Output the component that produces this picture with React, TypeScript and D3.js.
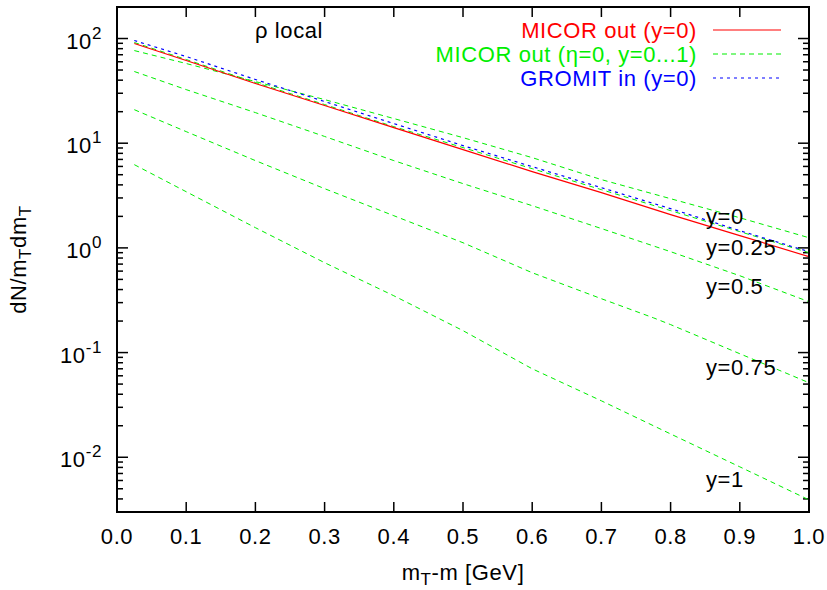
import React from "react";
import * as d3 from "d3";

const mT = [0.025, 0.1, 0.2, 0.3, 0.4, 0.5, 0.6, 0.7, 0.8, 0.9, 1.0];
const mT075 = [0.025, 0.1, 0.2, 0.3, 0.4, 0.5, 0.6, 0.7, 0.775, 0.8, 0.9, 1.0];
const micorY0 = [89.6, 61.6, 37.2, 22.9, 14.1, 8.69, 5.35, 3.37, 2.08, 1.31, 0.824];
const gromitY0 = [95.7, 67.3, 40.6, 25.0, 15.4, 9.48, 5.97, 3.76, 2.37, 1.46, 0.92];
const etaY0 = [91.6, 63.0, 38.0, 23.4, 14.4, 9.08, 5.71, 3.6, 2.27, 1.43, 0.9];
const etaY025 = [76.7, 57.7, 38.8, 26.1, 17.2, 11.3, 7.28, 4.49, 2.95, 1.94, 1.25];
const etaY05 = [48.4, 32.5, 19.6, 11.6, 6.82, 4.11, 2.53, 1.53, 0.92, 0.542, 0.306];
const etaY075 = [20.9, 12.9, 6.82, 3.68, 2.03, 1.12, 0.579, 0.327, 0.215, 0.185, 0.0975, 0.0515];
const etaY1 = [6.24, 3.44, 1.56, 0.722, 0.349, 0.162, 0.07, 0.0346, 0.0167, 0.0081, 0.00392];

const xTicks = [0, 0.1, 0.2, 0.3, 0.4, 0.5, 0.6, 0.7, 0.8, 0.9, 1.0];
const yExponents = [2, 1, 0, -1, -2];
const curveLabels = ["y=0", "y=0.25", "y=0.5", "y=0.75", "y=1"];
const curveLabelValues = [1.7, 0.85, 0.36, 0.0616, 0.00515];
const legendLabels = ["MICOR out (y=0)", "MICOR out (\u03b7=0, y=0...1)", "GROMIT in (y=0)"];

const W = 827, H = 590;
const L = 117, R = 809, T = 7, B = 512;
const FONT = "'Liberation Sans', Arial, Helvetica, sans-serif";

export default function App() {
  const x = d3.scaleLinear().domain([0, 1]).range([L, R]);
  const y = d3.scaleLog().domain([0.003, 200]).range([B, T]);
  const line = (xs: number[]) =>
    d3.line<number>().x((_, i) => x(xs[i])).y((d) => y(d));

  const minor: number[] = [];
  for (let e = -3; e <= 2; e++) {
    for (let m = 2; m <= 9; m++) {
      const v = m * Math.pow(10, e);
      if (v >= 0.003 && v <= 200) minor.push(v);
    }
  }

  const greens = [
    { xs: mT, ys: etaY0 },
    { xs: mT, ys: etaY025 },
    { xs: mT, ys: etaY05 },
    { xs: mT075, ys: etaY075 },
    { xs: mT, ys: etaY1 },
  ];

  const ts = { fontFamily: FONT, fontSize: 22, letterSpacing: 0.6 } as const;
  const legendColors = ["#ff0000", "#00ee00", "#0000ff"];
  const legendDash = [undefined, "5,4", "3,4"];

  return (
    <svg width={W} height={H} style={{ position: "absolute", left: 0, top: 0, background: "#fff" }}>
      <defs>
        <clipPath id="plot">
          <rect x={L} y={T} width={R - L} height={B - T} />
        </clipPath>
      </defs>
      <rect x={0} y={0} width={W} height={H} fill="#fff" />

      {/* ticks */}
      {xTicks.map((t, i) => (
        <g key={"xt" + i}>
          <line x1={x(t)} x2={x(t)} y1={B} y2={B - 10} stroke="#000" strokeWidth={1.5} />
          <line x1={x(t)} x2={x(t)} y1={T} y2={T + 10} stroke="#000" strokeWidth={1.5} />
          <text x={x(t)} y={544} textAnchor="middle" {...ts}>
            {d3.format(".1f")(t)}
          </text>
        </g>
      ))}
      {yExponents.map((e, i) => {
        const yy = y(Math.pow(10, e));
        return (
          <g key={"yt" + i}>
            <line x1={L} x2={L + 11} y1={yy} y2={yy} stroke="#000" strokeWidth={1.5} />
            <line x1={R} x2={R - 11} y1={yy} y2={yy} stroke="#000" strokeWidth={1.5} />
            <text x={102} y={yy + 10} textAnchor="end" {...ts}>
              10
              <tspan dy={-10} fontSize={17}>
                {String(e)}
              </tspan>
            </text>
          </g>
        );
      })}
      {minor.map((v, i) => (
        <g key={"mn" + i}>
          <line x1={L} x2={L + 6} y1={y(v)} y2={y(v)} stroke="#000" strokeWidth={1.5} />
          <line x1={R} x2={R - 6} y1={y(v)} y2={y(v)} stroke="#000" strokeWidth={1.5} />
        </g>
      ))}

      {/* data */}
      <g clipPath="url(#plot)" fill="none">
        {greens.map((g, i) => (
          <path key={"g" + i} d={line(g.xs)(g.ys) || ""} stroke="#00ee00" strokeWidth={1} strokeDasharray="5,4" />
        ))}
        <path d={line(mT)(micorY0) || ""} stroke="#ff0000" strokeWidth={1.2} />
        <path d={line(mT)(gromitY0) || ""} stroke="#0000ff" strokeWidth={1.2} strokeDasharray="3,4" />
      </g>

      {/* frame */}
      <rect x={L} y={T} width={R - L} height={B - T} fill="none" stroke="#000" strokeWidth={2} />

      {/* curve labels */}
      {curveLabels.map((s, i) => (
        <text key={"cl" + i} x={706} y={y(curveLabelValues[i])} {...ts}>
          {s}
        </text>
      ))}

      {/* rho local */}
      <text x={255} y={38} {...ts}>
        {"\u03c1 local"}
      </text>

      {/* legend */}
      {legendLabels.map((s, i) => {
        const cy = 30 + i * 24;
        return (
          <g key={"lg" + i}>
            <text x={697} y={cy + 8} textAnchor="end" fill={legendColors[i]} {...ts}>
              {s}
            </text>
            <line x1={713} x2={781} y1={cy} y2={cy} stroke={legendColors[i]} strokeWidth={1.2} strokeDasharray={legendDash[i]} />
          </g>
        );
      })}

      {/* axis titles */}
      <text x={463} y={580} textAnchor="middle" {...ts}>
        m<tspan fontSize={17} dy={5}>T</tspan>
        <tspan dy={-5}>-m [GeV]</tspan>
      </text>
      <text transform={`translate(26,${(T + B) / 2}) rotate(-90)`} textAnchor="middle" {...ts}>
        dN/m<tspan fontSize={17} dy={5}>T</tspan>
        <tspan dy={-5}>dm</tspan>
        <tspan fontSize={17} dy={5}>T</tspan>
      </text>
    </svg>
  );
}
